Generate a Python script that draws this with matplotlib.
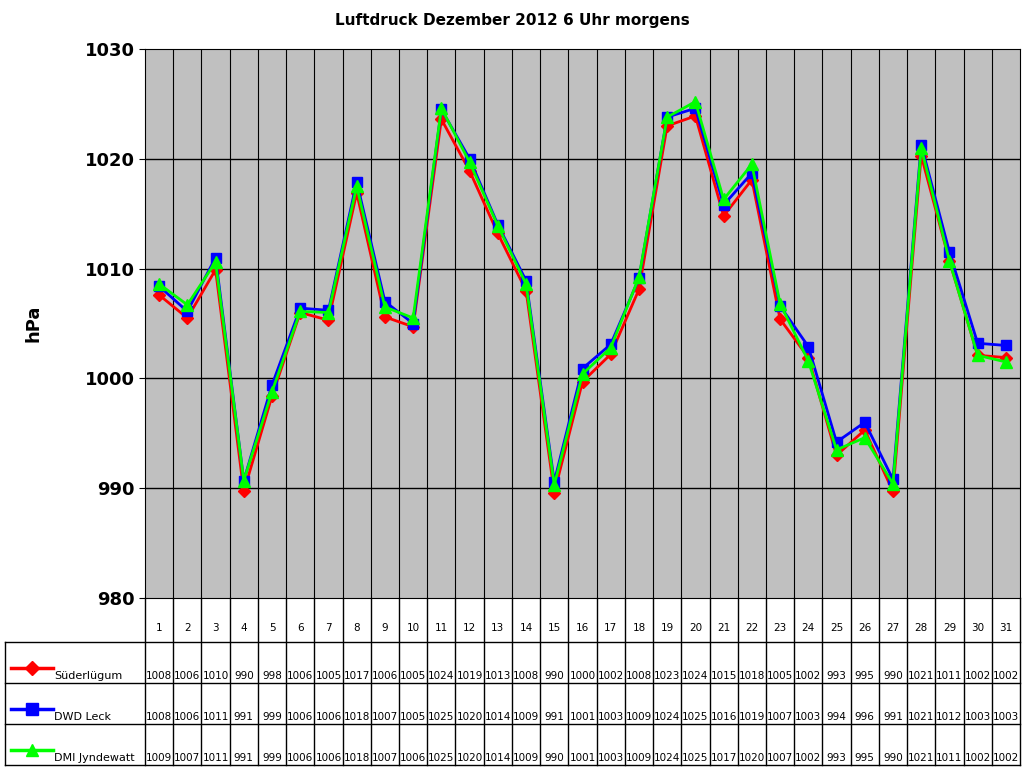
import numpy as np
import matplotlib.pyplot as plt
from matplotlib.lines import Line2D

days = list(range(1, 32))
sueder = [1007.6, 1005.5, 1009.9, 989.7, 998.4, 1006.0, 1005.3, 1016.9, 1005.6, 1004.7,
          1023.6, 1018.9, 1013.2, 1008.0, 989.6, 999.7, 1002.2, 1008.1, 1023.0, 1023.9,
          1014.8, 1018.1, 1005.4, 1001.9, 993.0, 995.3, 989.7, 1020.3, 1010.7, 1002.1, 1001.9]
leck = [1008.4, 1006.1, 1011.0, 990.7, 999.4, 1006.4, 1006.2, 1017.9, 1007.0, 1005.0,
        1024.5, 1020.0, 1014.0, 1008.9, 990.6, 1000.9, 1003.1, 1009.1, 1023.8, 1024.6,
        1015.8, 1018.7, 1006.6, 1002.9, 994.2, 996.0, 990.8, 1021.3, 1011.5, 1003.2, 1003.0]
dmi = [1008.6, 1006.7, 1010.6, 990.7, 998.8, 1006.1, 1006.0, 1017.5, 1006.5, 1005.5,
       1024.6, 1019.7, 1013.9, 1008.6, 990.3, 1000.4, 1002.8, 1009.2, 1023.8, 1025.2,
       1016.3, 1019.5, 1006.8, 1001.6, 993.5, 994.6, 990.4, 1021.0, 1010.7, 1002.1, 1001.5]

# values as printed in the data table
sueder_tab = [1008, 1006, 1010, 990, 998, 1006, 1005, 1017, 1006, 1005, 1024, 1019, 1013, 1008, 990, 1000,
              1002, 1008, 1023, 1024, 1015, 1018, 1005, 1002, 993, 995, 990, 1021, 1011, 1002, 1002]
leck_tab = [1008, 1006, 1011, 991, 999, 1006, 1006, 1018, 1007, 1005, 1025, 1020, 1014, 1009, 991, 1001,
            1003, 1009, 1024, 1025, 1016, 1019, 1007, 1003, 994, 996, 991, 1021, 1012, 1003, 1003]
dmi_tab = [1009, 1007, 1011, 991, 999, 1006, 1006, 1018, 1007, 1006, 1025, 1020, 1014, 1009, 990, 1001,
           1003, 1009, 1024, 1025, 1017, 1020, 1007, 1002, 993, 995, 990, 1021, 1011, 1002, 1002]

names = ['Süderlügum', 'DWD Leck', 'DMI Jyndewatt']
colors = ['#ff0000', '#0000ff', '#00ff00']
markers = ['D', 's', '^']
msizes = [6, 7, 8]
series = [sueder, leck, dmi]
tables = [sueder_tab, leck_tab, dmi_tab]

W, H = 1024, 768
fig = plt.figure(figsize=(10.24, 7.68), dpi=100)
fig.patch.set_facecolor('white')

# main plot area
x0, x1, y0, y1 = 145, 1020, 49, 598
ax = fig.add_axes([x0 / W, 1 - y1 / H, (x1 - x0) / W, (y1 - y0) / H])
ax.set_facecolor('#c0c0c0')
ax.set_xlim(0.5, 31.5)
ax.set_ylim(980, 1030)
for v in range(990, 1030, 10):
    ax.axhline(v, color='black', lw=1, zorder=1)
for b in np.arange(1.5, 31.5, 1):
    ax.axvline(b, color='black', lw=0.8, zorder=1)
for vals, c, m, ms in zip(series, colors, markers, msizes):
    ax.plot(days, vals, color=c, marker=m, lw=2, markersize=ms, zorder=3)
ax.set_xticks([])
ax.set_yticks(range(980, 1031, 10))
ax.tick_params(axis='y', labelsize=13, length=4)
for t in ax.get_yticklabels():
    t.set_fontweight('bold')
for s in ax.spines.values():
    s.set_color('black')
ax.set_ylabel('hPa', fontsize=13, fontweight='bold', labelpad=30)
fig.text(512 / W, 1 - 20 / H, 'Luftdruck Dezember 2012 6 Uhr morgens', ha='center', va='center',
         fontsize=11, fontweight='bold')

# data table
tx0, ty0, ty1 = 5, 598, 765
tab = fig.add_axes([tx0 / W, 1 - ty1 / H, (x1 - tx0) / W, (ty1 - ty0) / H])
left = 0.5 - (x0 - tx0) * 31 / (x1 - x0)
tab.set_xlim(left, 31.5)
rows = [598, 642, 683, 724, 765]
tab.set_ylim(765, 598)
tab.axis('off')
for r in rows[1:]:
    tab.plot([left, 31.5], [r, r], color='black', lw=1, clip_on=False)
tab.plot([left, left], [642, 765], color='black', lw=1, clip_on=False)
tab.plot([31.5, 31.5], [598, 765], color='black', lw=1, clip_on=False)
for b in np.arange(0.5, 31.5, 1):
    tab.plot([b, b], [598, 765], color='black', lw=1, clip_on=False)
for d in days:
    tab.text(d, 628, str(d), ha='center', va='center', fontsize=7.5)
for i, (vals, c, m, n, ms) in enumerate(zip(tables, colors, markers, names, msizes)):
    top = rows[i + 1]
    base = top + 39
    tab.add_line(Line2D([left + 0.2, left + 0.95, left + 1.7], [top + 26] * 3, color=c, lw=2.5,
                        marker=m, markevery=[1], markersize=ms + 1))
    tab.text(left + 1.75, base, n, ha='left', va='bottom', fontsize=8)
    for d, v in zip(days, vals):
        tab.text(d, base, str(v), ha='center', va='bottom', fontsize=7.5)

fig.savefig('out.png', dpi=100)
